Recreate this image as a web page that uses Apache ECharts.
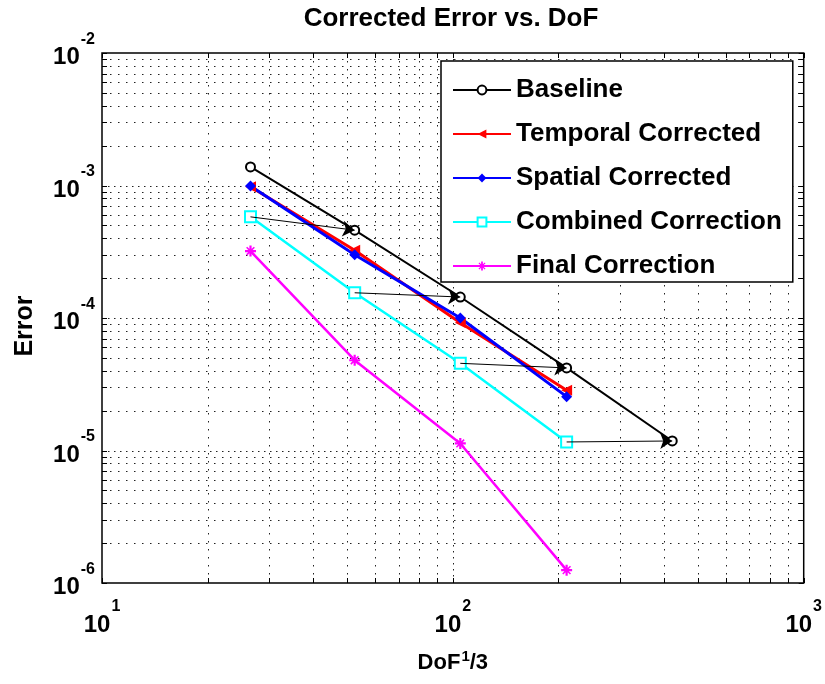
<!DOCTYPE html>
<html>
<head>
<meta charset="utf-8">
<title>Corrected Error vs. DoF</title>
<script src="https://cdn.jsdelivr.net/npm/echarts@6/dist/echarts.min.js"></script>
<style>
  html, body { margin: 0; padding: 0; background: #fff; }
  #chart { width: 825px; height: 684px; }
</style>
</head>
<body>
<div id="chart"></div>
<script>
// Cube root of degrees of freedom for each refinement level
const dof = [26.5, 52.5, 105, 211, 422];

// Error per refinement level
const baseline  = [1.38e-3, 4.6e-4, 1.44e-4, 4.2e-5, 1.18e-5];
const temporal  = [9.8e-4, 3.25e-4, 9.2e-5, 2.85e-5];
const spatial   = [9.9e-4, 3.0e-4, 1.0e-4, 2.55e-5];
const combined  = [5.8e-4, 1.55e-4, 4.55e-5, 1.16e-5];
const finalCorr = [3.2e-4, 4.8e-5, 1.13e-5, 1.25e-6];

const seriesNames = ['Baseline', 'Temporal Corrected', 'Spatial Corrected',
                     'Combined Correction', 'Final Correction'];

// Axis ranges (decades)
const xRange = [10, 1000];
const yRange = [1e-6, 1e-2];

const FONT = '"Liberation Sans", Arial, Helvetica, sans-serif';

// 1..9 steps inside each decade, used for the dotted grid and tick marks
function decadeSteps(lo, hi) {
  const out = [];
  const e0 = Math.round(Math.log10(lo)), e1 = Math.round(Math.log10(hi));
  for (let e = e0; e < e1; e++) {
    for (let k = 1; k <= 9; k++) out.push(k * Math.pow(10, e));
  }
  out.push(Math.pow(10, e1));
  return out;
}
const xGrid = decadeSteps(xRange[0], xRange[1]);
const yGrid = decadeSteps(yRange[0], yRange[1]);

function isDecade(v) {
  const l = Math.log10(v);
  return Math.abs(l - Math.round(l)) < 1e-9;
}

function pairs(xs, ys) {
  return ys.map((y, i) => [xs[i], y]);
}

// Each correction step points to the next baseline level
const arrows = combined.slice(0, dof.length - 1).map((v, i) => ({
  coords: [[dof[i], v], [dof[i + 1], baseline[i + 1]]]
}));

const crisp = v => Math.round(v) + 0.5;

// Dotted grid plus inward ticks on all four sides of the plot box
function renderFrame(params, api) {
  const TICK = 5;
  const children = [];
  const seg = (x1, y1, x2, y2, dash, color) => ({
    type: 'line',
    shape: { x1: x1, y1: y1, x2: x2, y2: y2 },
    style: { stroke: color || '#000', lineWidth: 1, lineDash: dash || null },
    silent: true
  });
  const majorDash = [1.5, 4.5], minorDash = [1.5, 6.5];
  xGrid.forEach(v => {
    const b = api.coord([v, yRange[0]]);
    const t = api.coord([v, yRange[1]]);
    const x = crisp(b[0]);
    if (v > xRange[0] && v < xRange[1]) {
      children.push(seg(x, t[1], x, b[1], isDecade(v) ? majorDash : minorDash, '#222'));
    }
    children.push(seg(x, b[1], x, b[1] - TICK));
    children.push(seg(x, t[1], x, t[1] + TICK));
  });
  yGrid.forEach(v => {
    const l = api.coord([xRange[0], v]);
    const r = api.coord([xRange[1], v]);
    const y = crisp(l[1]);
    if (v > yRange[0] && v < yRange[1]) {
      children.push(seg(l[0], y, r[0], y, isDecade(v) ? majorDash : minorDash, '#222'));
    }
    children.push(seg(l[0], y, l[0] + TICK, y));
    children.push(seg(r[0], y, r[0] - TICK, y));
  });
  return { type: 'group', children: children };
}

// Filled asterisk marker
const asterisk = 'path://M4,0 L6,0 L6,10 L4,10 Z M0,4 L10,4 L10,6 L0,6 Z ' +
                 'M1,2 L2,1 L9,8 L8,9 Z M8,1 L9,2 L2,9 L1,8 Z';

function powLabel(v) {
  const e = Math.round(Math.log10(v));
  return '{b|10}{s|' + e + '}';
}

// "10" sits low in a tall line box, the exponent hangs from its top
const richPow = {
  b: { fontSize: 24, fontWeight: 'bold', fontFamily: FONT, color: '#000',
       lineHeight: 38, verticalAlign: 'bottom' },
  s: { fontSize: 16, fontWeight: 'bold', fontFamily: FONT, color: '#000',
       verticalAlign: 'top', padding: [0, 0, 0, 1] }
};

const chart = echarts.init(document.getElementById('chart'));

chart.setOption({
  backgroundColor: '#fff',
  animation: false,
  title: {
    text: 'Corrected Error vs. DoF',
    left: 446,
    top: 1,
    textAlign: 'center',
    textStyle: { fontSize: 26, fontWeight: 'bold', fontFamily: FONT, color: '#000' }
  },
  legend: {
    data: seriesNames,
    orient: 'vertical',
    left: 441,
    top: 61,
    padding: [16, 11, 3, 11],
    itemGap: 18,
    itemWidth: 58,
    itemHeight: 11,
    backgroundColor: '#fff',
    borderColor: '#000',
    borderWidth: 1.5,
    borderRadius: 0,
    textStyle: { fontSize: 26, fontWeight: 'bold', fontFamily: FONT, color: '#000' }
  },
  grid: {
    left: 102, right: 19, top: 53, bottom: 101,
    show: true, borderColor: '#000', borderWidth: 1.5, backgroundColor: '#fff'
  },
  xAxis: {
    type: 'log',
    logBase: 10,
    min: xRange[0],
    max: xRange[1],
    name: '{n|DoF}{s|1}{n|/3}',
    nameLocation: 'middle',
    nameGap: 66,
    nameTextStyle: {
      rich: {
        n: { fontSize: 22, fontWeight: 'bold', fontFamily: FONT, color: '#000',
             lineHeight: 25, verticalAlign: 'bottom' },
        s: { fontSize: 15, fontWeight: 'bold', fontFamily: FONT, color: '#000',
             verticalAlign: 'top', padding: [0, 0, 0, 1] }
      }
    },
    axisLine: { show: false },
    axisTick: { show: false },
    splitLine: { show: false },
    minorTick: { show: false },
    axisLabel: {
      margin: 16,
      formatter: powLabel,
      rich: richPow
    }
  },
  yAxis: {
    type: 'log',
    logBase: 10,
    min: yRange[0],
    max: yRange[1],
    name: 'Error',
    nameLocation: 'middle',
    nameGap: 64,
    nameRotate: 90,
    nameTextStyle: { fontSize: 25, fontWeight: 'bold', fontFamily: FONT, color: '#000',
                     padding: [0, 16, 0, 0] },
    axisLine: { show: false },
    axisTick: { show: false },
    splitLine: { show: false },
    minorTick: { show: false },
    axisLabel: {
      margin: 7,
      formatter: powLabel,
      padding: [0, 0, 5, 0],
      rich: richPow
    }
  },
  series: [
    {
      type: 'custom',
      name: 'frame',
      coordinateSystem: 'cartesian2d',
      renderItem: renderFrame,
      data: [[100, 1e-4]],
      z: 1,
      silent: true,
      tooltip: { show: false }
    },
    {
      name: seriesNames[0],
      type: 'line',
      data: pairs(dof, baseline),
      color: '#000',
      lineStyle: { width: 2, color: '#000' },
      symbol: 'emptyCircle',
      symbolSize: 9,
      itemStyle: { color: '#000', borderColor: '#000', borderWidth: 1.5 },
      z: 3
    },
    {
      name: seriesNames[1],
      type: 'line',
      data: pairs(dof, temporal),
      color: '#ff0000',
      lineStyle: { width: 3, color: '#ff0000' },
      symbol: 'triangle',
      symbolRotate: 90,
      symbolSize: 11,
      itemStyle: { color: '#ff0000' },
      z: 3
    },
    {
      name: seriesNames[2],
      type: 'line',
      data: pairs(dof, spatial),
      color: '#0000ff',
      lineStyle: { width: 3, color: '#0000ff' },
      symbol: 'diamond',
      symbolSize: 11,
      itemStyle: { color: '#0000ff' },
      z: 3
    },
    {
      name: seriesNames[3],
      type: 'line',
      data: pairs(dof, combined),
      color: '#00ffff',
      lineStyle: { width: 2.5, color: '#00ffff' },
      symbol: 'emptyRect',
      symbolSize: 11,
      itemStyle: { color: '#00ffff', borderColor: '#00ffff', borderWidth: 2 },
      z: 3
    },
    {
      name: seriesNames[4],
      type: 'line',
      data: pairs(dof, finalCorr),
      color: '#ff00ff',
      lineStyle: { width: 2.5, color: '#ff00ff' },
      symbol: asterisk,
      symbolSize: 11,
      itemStyle: { color: '#ff00ff' },
      z: 3
    },
    {
      name: 'correction steps',
      type: 'lines',
      coordinateSystem: 'cartesian2d',
      data: arrows,
      symbol: ['none', 'arrow'],
      symbolSize: 12,
      lineStyle: { color: '#000', width: 1, opacity: 1, curveness: 0 },
      z: 4,
      silent: true
    }
  ]
});
</script>
</body>
</html>
